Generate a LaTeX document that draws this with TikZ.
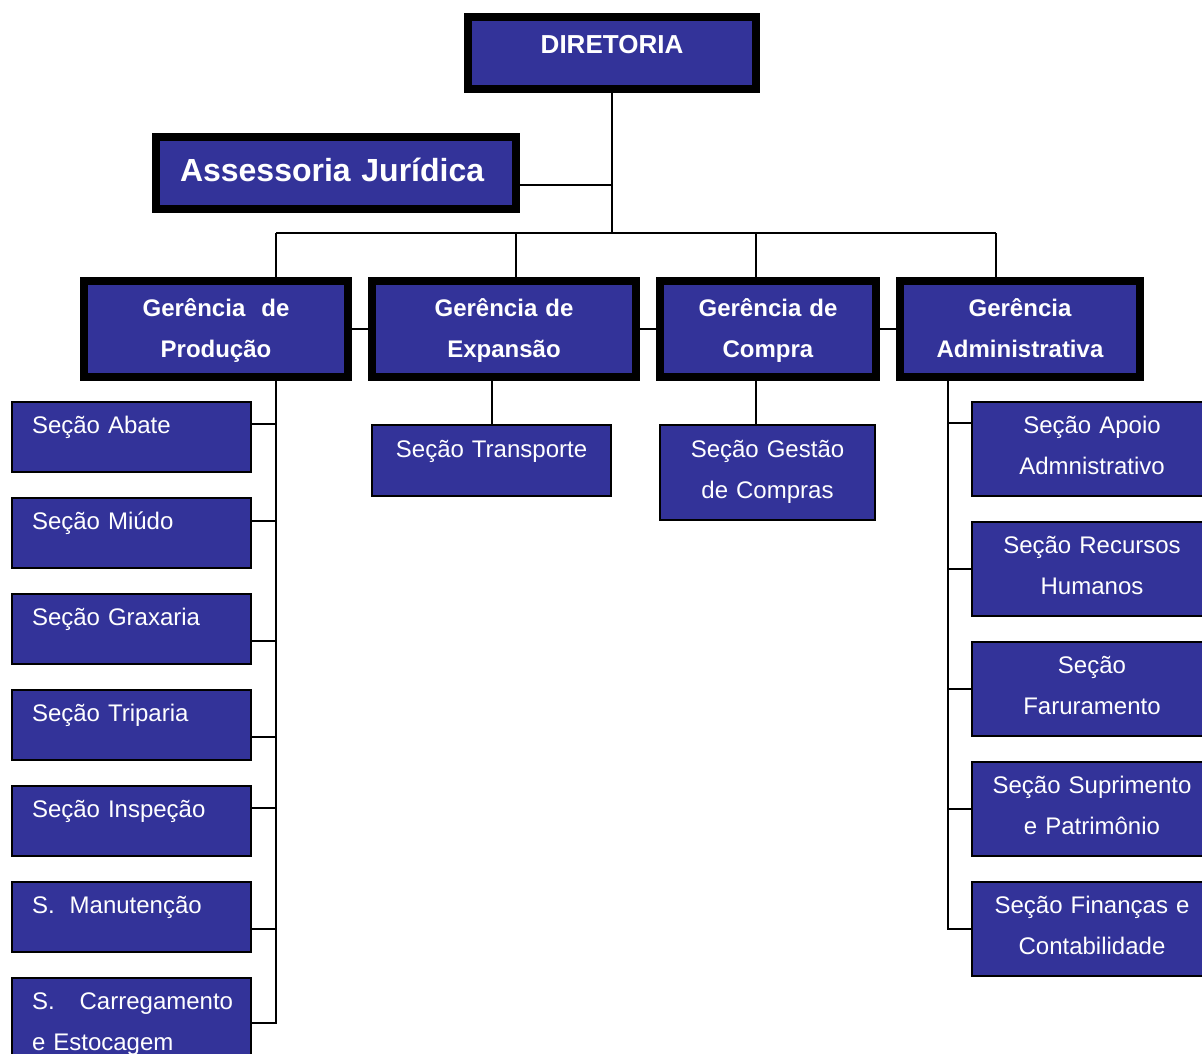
\documentclass[tikz,border=0pt]{standalone}
\usepackage{fontspec}
\setmainfont{Liberation Sans}
\definecolor{azul}{RGB}{51,51,153}

\begin{document}
\begin{tikzpicture}[x=1pt,y=-1pt,
  chefe/.style={draw=black,line width=8pt,fill=azul,text=white,inner sep=0pt,align=center,
    font=\fontsize{24}{41}\selectfont\bfseries,text height=35pt,text depth=61pt},
  secao/.style={draw=black,line width=2.5pt,fill=azul,text=white,inner sep=0pt,align=center,
    font=\fontsize{24}{41}\selectfont},
  secesq/.style={secao,align=left,inner xsep=20pt,text width=199pt,text height=31pt,text depth=39pt},
  secdir/.style={secao,text width=240pt,text height=31pt,text depth=63pt},
  liga/.style={line width=2pt}]
\useasboundingbox (0,0) rectangle (1202,1053);

% topo
\node[chefe,text width=288pt,text height=36pt,text depth=36pt,font=\fontsize{26}{41}\selectfont\bfseries] (dir) at (612,53) {DIRETORIA};
\node[chefe,align=left,inner xsep=24pt,text width=312pt,text height=44pt,text depth=28pt,font=\fontsize{32}{41}\selectfont\bfseries] (ass) at (336,173) {Assessoria Jurídica};

% gerencias
\node[chefe,text width=264pt] (prod) at (216,329) {Gerência~~de\\Produção};
\node[chefe,text width=264pt] (exp) at (504,329) {Gerência de\\Expansão};
\node[chefe,text width=216pt] (comp) at (768,329) {Gerência de\\Compra};
\node[chefe,text width=240pt] (adm) at (1020,329) {Gerência\\Administrativa};

% secoes da producao
\node[secesq] (abate) at (131.5,437) {Seção Abate};
\node[secesq] (miudo) at (131.5,533) {Seção Miúdo};
\node[secesq] (grax) at (131.5,629) {Seção Graxaria};
\node[secesq] (trip) at (131.5,725) {Seção Triparia};
\node[secesq] (insp) at (131.5,821) {Seção Inspeção};
\node[secesq] (manut) at (131.5,917) {S.\hspace{15pt}Manutenção};
\node[secesq,text depth=59pt] (carr) at (131.5,1023) {\mbox{S.\hspace{25pt}Carregamento}\\e Estocagem};

% expansao e compra
\node[secao,text width=239pt,text height=32pt,text depth=39pt] (transp) at (491.5,460.5) {Seção Transporte};
\node[secao,text width=215pt,text height=32pt,text depth=63pt] (gest) at (767.5,472.5) {Seção Gestão\\de Compras};

% secoes administrativas
\node[secdir] (apoio) at (1092,449) {Seção Apoio\\Admnistrativo};
\node[secdir] (rh) at (1092,569) {Seção Recursos\\Humanos};
\node[secdir] (fat) at (1092,689) {Seção\\Faruramento};
\node[secdir] (supr) at (1092,809) {Seção Suprimento\\e Patrimônio};
\node[secdir] (fin) at (1092,929) {Seção Finanças e\\Contabilidade};

% ligacoes
\coordinate (jur) at (612,185);
\coordinate (hub) at (612,233);
\coordinate (b1) at (276,233);
\coordinate (b2) at (516,233);
\coordinate (b3) at (756,233);
\coordinate (b4) at (996,233);
\coordinate (spine) at (948,381);

\draw[liga] (dir) -- (hub);
\draw[liga] (ass.east |- jur) -- (jur);
\draw[liga] (b1) -- (b4);
\foreach \c/\g in {b1/prod,b2/exp,b3/comp,b4/adm}
  \draw[liga] (\c) -- (\c |- \g.north);
\draw[liga] (prod) -- (exp);
\draw[liga] (exp) -- (comp);
\draw[liga] (comp) -- (adm);

\foreach \s/\d in {abate/23,miudo/24,grax/48,trip/48,insp/23,manut/48,carr/46}
  \draw[liga] (b1 |- prod.south) |- ([yshift=-\d pt]\s.north east);
\foreach \s/\d in {apoio/22,rh/48,fat/48,supr/48,fin/48}
  \draw[liga] (spine) |- ([yshift=-\d pt]\s.north west);

\draw[liga] (transp.north |- exp.south) -- (transp.north);
\draw[liga] (b3 |- comp.south) -- (b3 |- gest.north);
\end{tikzpicture}
\end{document}
